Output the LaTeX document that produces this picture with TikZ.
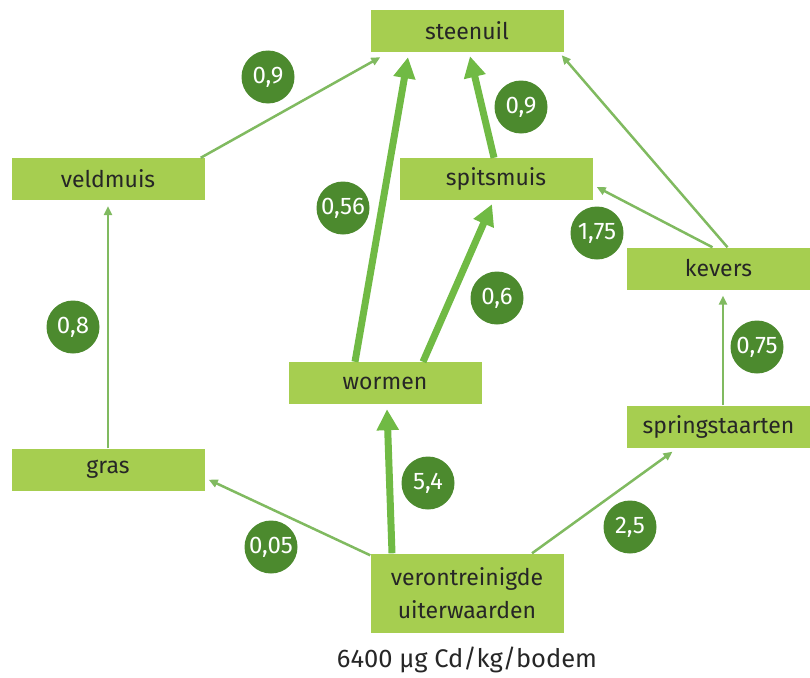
\documentclass[tikz,border=0pt]{standalone}
\usepackage{fontspec}
\setmainfont{Fira Sans}
\usetikzlibrary{arrows.meta,positioning}
\definecolor{boxgreen}{RGB}{166,206,80}
\definecolor{dotgreen}{RGB}{76,138,46}
\definecolor{fatgreen}{RGB}{112,186,68}
\definecolor{leangreen}{RGB}{128,186,96}

\begin{document}
\begin{tikzpicture}[
  x=1pt, y=-1pt,
  node distance=11pt,
  box/.style={fill=boxgreen, align=center, inner sep=0pt, minimum width=193pt, minimum height=42pt, text=black!85, font=\fontsize{23}{33}\selectfont},
  num/.style={circle, fill=dotgreen, text=white, inner sep=0pt, minimum size=53pt, font=\fontsize{24}{26}\selectfont},
  flow/.style={draw=leangreen, line width=2.5pt, -{Triangle[length=9pt,width=8pt]}},
  bigflow/.style={draw=fatgreen, line width=7pt, -{Triangle[length=21pt,width=21pt]}}
]
\useasboundingbox (0,0) rectangle (810,677);

\node[box] (steenuil) at (467,31) {steenuil};
\node[box] (veldmuis) at (108,179) {veldmuis};
\node[box] (spitsmuis) at (496,179) {spitsmuis};
\node[box, minimum width=183pt] (kevers) at (718.5,268.5) {kevers};
\node[box] (wormen) at (385,383) {wormen};
\node[box] (gras) at (108,469.5) {gras};
\node[box, minimum width=183pt] (spring) at (718.5,426.5) {springstaarten};
\node[box, minimum height=79pt] (uiter) at (467,593) {verontreinigde\\uiterwaarden};
\node[below=of uiter, font=\fontsize{25.5}{28}\selectfont, text=black!85] (bodem) {6400 µg Cd/kg/bodem};

\draw[flow] ([xshift=-4pt]veldmuis.north east) -- ([xshift=10pt,yshift=-5pt]steenuil.south west);
\draw[flow] (gras.north) -- ([yshift=-6pt]veldmuis.south);
\draw[flow] ([yshift=-2pt]uiter.north west) -- ([xshift=4pt,yshift=11pt]gras.south east);
\draw[bigflow] ([xshift=-75pt]uiter.north) -- ([xshift=2pt,yshift=-5pt]wormen.south);
\draw[bigflow] ([xshift=-30pt]wormen.north) -- ([xshift=-59pt,yshift=-5pt]steenuil.south);
\draw[bigflow] ([xshift=38pt]wormen.north) -- ([xshift=-4pt,yshift=-4pt]spitsmuis.south);
\draw[bigflow] ([xshift=-2pt]spitsmuis.north) -- ([xshift=3pt,yshift=-4pt]steenuil.south);
\draw[flow] ([xshift=9pt]kevers.north) -- ([xshift=-2pt,yshift=-3pt]steenuil.south east);
\draw[flow] ([xshift=-6pt]kevers.north) -- ([xshift=4pt,yshift=-8pt]spitsmuis.east);
\draw[flow] ([xshift=4.5pt]spring.north) -- ([xshift=4.5pt,yshift=-6pt]kevers.south);
\draw[flow] ([xshift=65pt]uiter.north) -- ([xshift=-46pt,yshift=-4pt]spring.south);

% overdrachtsfactoren
\node[num] (f-veldmuis) at (268,77) {0,9};
\node[num] (f-wormen) at (343,208) {0,56};
\node[num] (f-gras) at (73,327) {0,8};
\node[num] (f-spitsmuis) at (521,107) {0,9};
\node[num] (f-kevers) at (597,233) {1,75};
\node[num] (f-worm) at (497,298) {0,6};
\node[num] (f-spring) at (757,347) {0,75};
\node[num] (f-bodem) at (428,483) {5,4};
\node[num] (f-plant) at (271,547) {0,05};
\node[num] (f-staart) at (630,527) {2,5};
\end{tikzpicture}
\end{document}
